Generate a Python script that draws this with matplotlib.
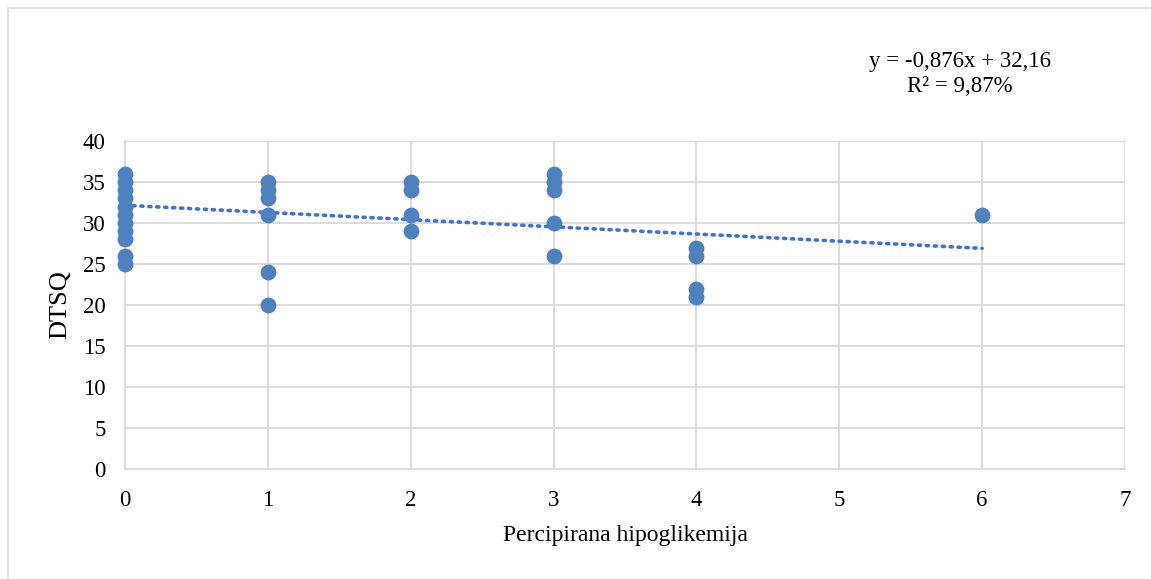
import matplotlib.pyplot as plt

# data
x_vals = [0] * 11 + [1] * 6 + [2] * 4 + [3] * 5 + [4] * 4 + [6]
y_vals = [36, 35, 34, 33, 32, 31, 30, 29, 28, 26, 25,
          35, 34, 33, 31, 24, 20,
          35, 34, 31, 29,
          36, 35, 34, 30, 26,
          27, 26, 22, 21,
          31]
trend_slope = -0.876
trend_intercept = 32.16
trend_label = "y = -0,876x + 32,16\nR² = 9,87%"
x_ticks = list(range(0, 8))
y_ticks = list(range(0, 45, 5))

plt.rcParams["font.family"] = ["Liberation Serif", "DejaVu Serif"]

fig = plt.figure(figsize=(11.51, 5.79), dpi=100)
ax = fig.add_axes([0.1086, 0.19, 0.8688, 0.5665])

grid_col = "#d9d9d9"
ax.set_xlim(0, 7)
ax.set_ylim(0, 40)
ax.set_xticks(x_ticks)
ax.set_yticks(y_ticks)
ax.grid(True, color=grid_col, linewidth=1.3)
ax.set_axisbelow(True)
for side in ["top", "right"]:
    ax.spines[side].set_visible(False)
for side in ["left", "bottom"]:
    ax.spines[side].set_color(grid_col)
    ax.spines[side].set_linewidth(1.3)
ax.tick_params(axis="x", length=0, labelsize=16.5, pad=15)
ax.tick_params(axis="y", length=0, labelsize=16.5, pad=14)

# trend line from x=0 to max x
tx = [0, max(x_vals)]
ty = [trend_intercept + trend_slope * v for v in tx]
ax.plot(tx, ty, linestyle=(0, (0.6, 1.6)), color="#4472c4", linewidth=2.6,
        dash_capstyle="round", zorder=2)

ax.scatter(x_vals, y_vals, s=130, color="#4f81bd", zorder=3, clip_on=False,
           linewidths=0)

ax.set_xlabel("Percipirana hipoglikemija", fontsize=17, labelpad=10)
ax.set_ylabel("DTSQ", fontsize=19, labelpad=8)

fig.text(960 / 1151, 1 - 74 / 579, trend_label, ha="center", va="center",
         fontsize=16.5, linespacing=1.25)

# outer chart border (left and top visible)
fig.patches.append(plt.Rectangle((8 / 1151, -0.02), 1.05, 1 - 8 / 579 + 0.02,
                                 transform=fig.transFigure, fill=False,
                                 edgecolor="#d9d9d9", linewidth=1.2))

fig.savefig("out.png", dpi=100)
